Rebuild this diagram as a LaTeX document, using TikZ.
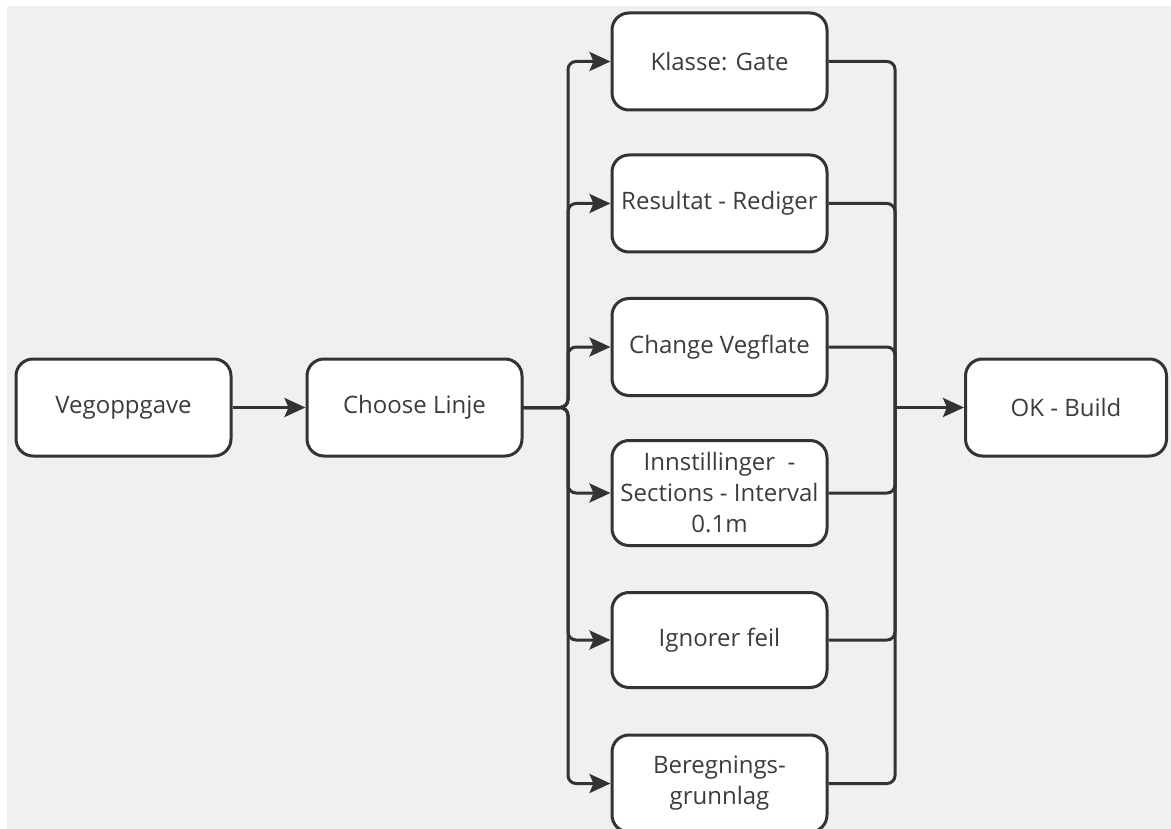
\documentclass[tikz,border=0pt]{standalone}
\usepackage{fontspec}
\setmainfont{Open Sans}
\usetikzlibrary{arrows.meta}
\definecolor{bg}{HTML}{F0F0F0}
\definecolor{ink}{HTML}{333333}
\definecolor{txt}{HTML}{3C3C3C}
\begin{document}
\begin{tikzpicture}[x=1pt,y=-1pt,
  box/.style={draw=ink, line width=3pt, fill=white, rounded corners=17pt,
    minimum width=215pt, align=center, text=txt, inner sep=0pt,
    font=\fontsize{24}{31}\selectfont},
  conn/.style={draw=ink, line width=3pt, rounded corners=8pt},
  arr/.style={conn, -{Stealth[length=21pt, width=19pt, inset=4pt]}}]
\useasboundingbox (0,0) rectangle (1171,829);
\fill[white] (0,0) rectangle (1171,829);
\fill[bg] (7,6) rectangle (1171,829);
\node[box, minimum height=97pt] (veg) at (123.5,407.5) {Vegoppgave};
\node[box, minimum height=97pt] (cl) at (414.5,407.5) {Choose Linje};
\node[box, minimum height=97pt, minimum width=201pt] (ok) at (1066,407.5) {OK - Build};
\node[box, minimum height=97pt] (k) at (719.5,61.5) {Klasse: Gate};
\node[box, minimum height=97pt] (r) at (719.5,203.5) {Resultat - Rediger};
\node[box, minimum height=97pt] (c) at (719.5,347) {Change Vegflate};
\node[box, minimum height=105pt] (i) at (719.5,493) {Innstillinger~ -\\Sections - Interval\\0.1m};
\node[box, minimum height=95pt] (g) at (719.5,640) {Ignorer feil};
\node[box, minimum height=97pt] (b) at (719.5,783.5) {Beregnings-\\grunnlag};
\coordinate (jl) at (568,407.5);
\coordinate (jr) at (895,407.5);
\draw[arr] (veg.east) -- (cl.west);
\foreach \n in {k,r,c,i,g,b}{
  \draw[arr] (cl.east) -- (jl) |- (\n.west);
  \draw[conn] (\n.east) -| (jr);
}
\draw[arr] (jr) -- (ok.west);
\end{tikzpicture}
\end{document}
